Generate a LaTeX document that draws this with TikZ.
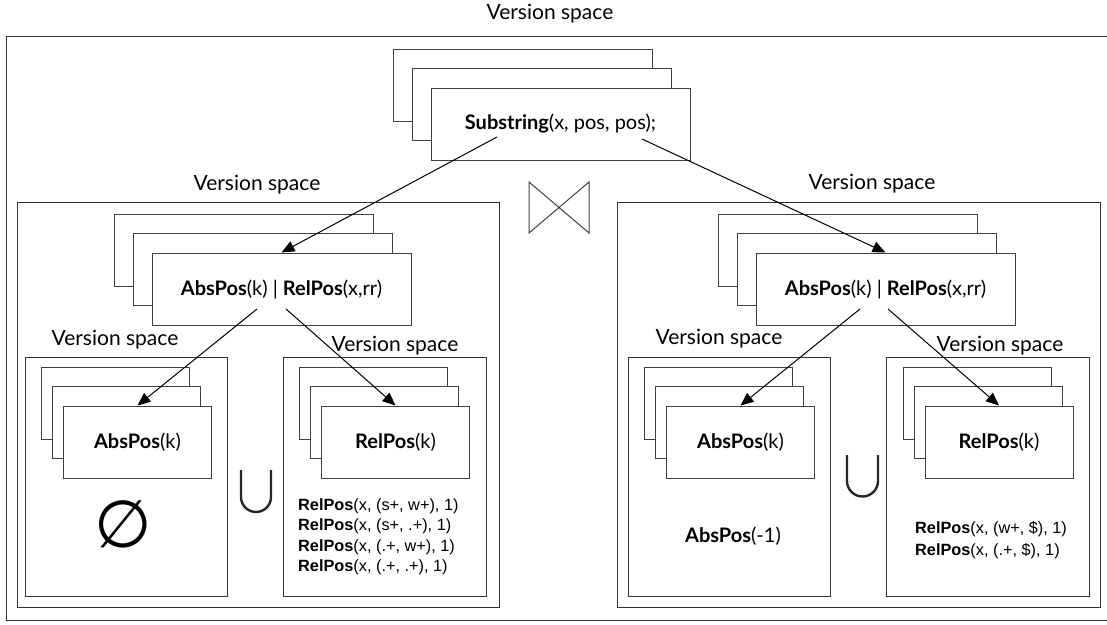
\documentclass[tikz,border=0pt]{standalone}
\usepackage{fontspec}
\setmainfont{Lato}
\newfontfamily\listfont{Liberation Sans}
\newfontfamily\symbfont{DejaVu Sans}
\usetikzlibrary{arrows.meta}
\tikzset{
	vsbox/.style={draw=black!80, line width=1pt, anchor=north west, inner sep=0pt},
	vslabel/.style={anchor=base, font=\fontsize{21}{25}\selectfont},
	card/.style={draw=black!75, fill=white, line width=1pt, minimum width=259pt, minimum height=72pt, inner sep=0pt, font=\fontsize{20}{24}\selectfont},
	smallcard/.style={card, minimum width=148pt},
	listtext/.style={anchor=west, align=left, inner sep=0pt, font=\listfont\fontsize{16.3}{20.5}\selectfont},
	arr/.style={-{Triangle[length=13pt,width=11pt]}, line width=1pt},
}

\begin{document}
\begin{tikzpicture}[x=1pt,y=-1pt]
	\useasboundingbox (0,0) rectangle (1107,624);
	\draw[black!80, line width=1pt] (1107,36)--(6,36)--(6,620)--(1107,620);
	\node[vslabel] (lbtop) at (550,19) {Version space};

	\node[card] (sub1) at (522.5,85.5) {};
	\node[card] (sub2) at (541.5,104.5) {};
	\node[card] (sub) at (560.5,124) {\textbf{Substring}(x, pos, pos);};

	\draw[black!75, line width=1pt] (529,182)--(589,233)--(589,182)--(529,233)--cycle;

	\node[vsbox, minimum width=482pt, minimum height=405pt] (vsl) at (17,202) {};
	\node[vslabel] (lbl) at (257,190) {Version space};
	\node[card] (midl1) at (243.5,250) {};
	\node[card] (midl2) at (262.5,269.5) {};
	\node[card] (midl) at (281.5,289) {\textbf{AbsPos}(k) | \textbf{RelPos}(x,rr)};

	\node[vsbox, minimum width=202pt, minimum height=239pt] (vsll) at (25,357) {};
	\node[vslabel] (lbll) at (115,345) {Version space};
	\node[smallcard] (ll1) at (115.5,403) {};
	\node[smallcard] (ll2) at (126.5,422.5) {};
	\node[smallcard] (ll) at (137.5,442) {\textbf{AbsPos}(k)};
	\node[font=\symbfont\fontsize{66}{66}\selectfont] (empty) at (123,524) {∅};

	\draw[black!85, line width=2.4pt] (241,470)--(241,497) arc[start angle=180, end angle=0, radius=15]--(271,470);

	\node[vsbox, minimum width=203pt, minimum height=239pt] (vslr) at (283,357) {};
	\node[vslabel] (lblr) at (395,351) {Version space};
	\node[smallcard] (lr1) at (373.5,403) {};
	\node[smallcard] (lr2) at (384.5,422.5) {};
	\node[smallcard] (lr) at (395.5,442) {\textbf{RelPos}(k)};
	\node[listtext] (listl) at (298,537) {\textbf{RelPos}(x, (s+, w+), 1)\\\textbf{RelPos}(x, (s+, .+), 1)\\\textbf{RelPos}(x, (.+, w+), 1)\\\textbf{RelPos}(x, (.+, .+), 1)};

	\node[vsbox, minimum width=483pt, minimum height=405pt] (vsr) at (617,202) {};
	\node[vslabel] (lbr) at (872,189) {Version space};
	\node[card] (midr1) at (847.5,250) {};
	\node[card] (midr2) at (866.5,269.5) {};
	\node[card] (midr) at (885.5,289) {\textbf{AbsPos}(k) | \textbf{RelPos}(x,rr)};

	\node[vsbox, minimum width=202pt, minimum height=239pt] (vsrl) at (628,357) {};
	\node[vslabel] (lbrl) at (719,344) {Version space};
	\node[smallcard] (rl1) at (718.5,403) {};
	\node[smallcard] (rl2) at (729.5,422.5) {};
	\node[smallcard] (rl) at (740.5,442) {\textbf{AbsPos}(k)};
	\node[font=\fontsize{20}{24}\selectfont] (absneg) at (733,536) {\textbf{AbsPos}(-1)};

	\draw[black!85, line width=2.4pt] (847,455)--(847,481) arc[start angle=180, end angle=0, radius=15.5]--(878,455);

	\node[vsbox, minimum width=203pt, minimum height=239pt] (vsrr) at (886,357) {};
	\node[vslabel] (lbrr) at (1000,351) {Version space};
	\node[smallcard] (rr1) at (977.5,403) {};
	\node[smallcard] (rr2) at (988.5,422.5) {};
	\node[smallcard] (rr) at (999,442) {\textbf{RelPos}(k)};
	\node[listtext, font=\listfont\fontsize{16.3}{22}\selectfont] (listr) at (915,540) {\textbf{RelPos}(x, (w+, \$), 1)\\\textbf{RelPos}(x, (.+, \$), 1)};

	\draw[arr] ([shift={(-63.5,13)}]sub.center) -- (midl.north);
	\draw[arr] ([shift={(81.5,15)}]sub.center) -- (midr.north);
	\draw[arr] ([shift={(-24.5,20)}]midl.center) -- (ll.north);
	\draw[arr] ([shift={(4.5,20)}]midl.center) -- (lr.north);
	\draw[arr] ([shift={(-25.5,20)}]midr.center) -- (rl.north);
	\draw[arr] ([shift={(2.5,20)}]midr.center) -- (rr.north);
\end{tikzpicture}
\end{document}
